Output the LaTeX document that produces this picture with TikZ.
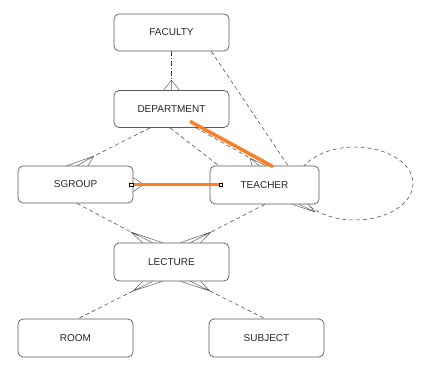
\documentclass[tikz,border=0pt]{standalone}
\usepackage{fontspec}
\setmainfont{Liberation Sans}
\usetikzlibrary{calc}
\pgfdeclarelayer{bg}
\pgfsetlayers{bg,main}
\definecolor{lineg}{RGB}{60,60,60}
\definecolor{footg}{RGB}{90,90,90}
\definecolor{hl}{RGB}{250,128,40}
\tikzset{
  ent/.style={draw=black!65, line width=0.7pt, rounded corners=5pt, fill=white,
    minimum width=115pt, minimum height=37pt, inner sep=0pt,
    font=\fontsize{10}{12}\selectfont, text=black!85},
  rel/.style={draw=lineg, line width=0.5pt, dash pattern=on 4pt off 3pt},
  reldd/.style={draw=lineg, line width=0.5pt, dash pattern=on 5pt off 2pt on 1pt off 2pt},
  foot/.style={draw=footg, line width=0.5pt},
  hline/.style={draw=hl, line width=3.5pt},
  endsq/.style={draw=black, fill=white, line width=0.4pt, minimum size=3.5pt, inner sep=0pt}
}
\begin{document}
\begin{tikzpicture}[x=1pt,y=-1pt]
\useasboundingbox (0,0) rectangle (421,365);
% entities
\node[ent] (fac) at (171.5,32.5) {FACULTY};
\node[ent] (dept) at (171.5,109) {DEPARTMENT};
\node[ent] (sg) at (75.5,184.5) {SGROUP};
\node[ent, minimum width=109pt, minimum height=38pt] (te) at (264.5,185) {TEACHER};
\node[ent, minimum height=38pt] (lec) at (171.5,262) {LECTURE};
\node[ent, minimum height=38pt] (room) at (75.5,338) {ROOM};
\node[ent, minimum height=38pt] (subj) at (266.5,338) {SUBJECT};

\begin{pgfonlayer}{bg}
\fill[white] (0,0) rectangle (421,365);
% recursive TEACHER relationship
\draw[rel] (355,183.5) ellipse [x radius=58, y radius=36.5];
\coordinate (c12) at (315,212);
\draw[foot] ($(te.south)+(28,0)$) -- (c12) ($(te.south)+(35,0)$) -- (c12) ($(te.south)+(44,0)$) -- (c12);
% FACULTY - DEPARTMENT
\coordinate (c1) at ($(dept.north)+(0,-10)$);
\draw[reldd] (fac.south) -- (c1);
\draw[foot] ($(dept.north)+(-8,0)$) -- (c1) -- ($(dept.north)+(8,0)$) (c1) -- (dept.north);
% FACULTY - TEACHER
\draw[rel] ($(fac.south east)+(-18,0)$) -- ($(te.north)+(23.5,0)$);
% DEPARTMENT - TEACHER
\draw[rel] ($(dept.south)+(-1.5,0)$) -- ($(te.north west)+(9,0)$);
\coordinate (c4) at (250,158);
\draw[rel] ($(dept.south)+(24.5,0)$) -- (c4);
\draw[foot] (c4) -- ($(te.north)+(-12.5,0)$) (c4) -- ($(te.north)+(-5.5,0)$) (c4) -- ($(te.north)+(1.5,0)$);
% DEPARTMENT - SGROUP
\coordinate (c6) at (94,156);
\draw[rel] ($(dept.south)+(-21.5,0)$) -- (c6);
\draw[foot] (c6) -- ($(sg.north)+(-8.5,0)$) (c6) -- ($(sg.north)+(1.5,0)$) (c6) -- ($(sg.north)+(12.5,0)$);
% SGROUP - TEACHER
\coordinate (c7) at ($(sg.east)+(10,0)$);
\draw[foot] (c7) -- ($(sg.east)+(0,-7)$) (c7) -- (sg.east) (c7) -- ($(sg.east)+(0,7)$);
% SGROUP - LECTURE
\coordinate (c8) at (131,232);
\draw[rel] ($(sg.south)+(1.5,0)$) -- (c8);
\draw[foot] (c8) -- ($(lec.north)+(-29,0)$) (c8) -- ($(lec.north)+(-19,0)$) (c8) -- ($(lec.north)+(-9,0)$);
% TEACHER - LECTURE
\coordinate (c9) at (211,232);
\draw[rel] ($(te.south)+(0.5,0)$) -- (c9);
\draw[foot] (c9) -- ($(lec.north)+(9,0)$) (c9) -- ($(lec.north)+(19,0)$) (c9) -- ($(lec.north)+(29,0)$);
% LECTURE - ROOM
\coordinate (c10) at (133,291);
\draw[rel] (c10) -- ($(room.north)+(2.5,0)$);
\draw[foot] (c10) -- ($(lec.south)+(-29,0)$) (c10) -- ($(lec.south)+(-19,0)$) (c10) -- ($(lec.south)+(-9,0)$);
% LECTURE - SUBJECT
\coordinate (c11) at (210,291);
\draw[rel] (c11) -- ($(subj.north)+(-1.5,0)$);
\draw[foot] (c11) -- ($(lec.south)+(9,0)$) (c11) -- ($(lec.south)+(19,0)$) (c11) -- ($(lec.south)+(29,0)$);
\end{pgfonlayer}

% highlighted links
\draw[hline] ($(dept.south)+(18.5,-6.5)$) -- ($(te.north)+(8.5,1)$);
\coordinate (o1) at ($(sg.east)+(-2,0)$);
\coordinate (o2) at ($(te.west)+(11,-0.5)$);
\draw[hline] (o1) -- (o2);
\node[endsq] (sq1) at (o1) {};
\node[endsq] (sq2) at (o2) {};
\end{tikzpicture}
\end{document}
